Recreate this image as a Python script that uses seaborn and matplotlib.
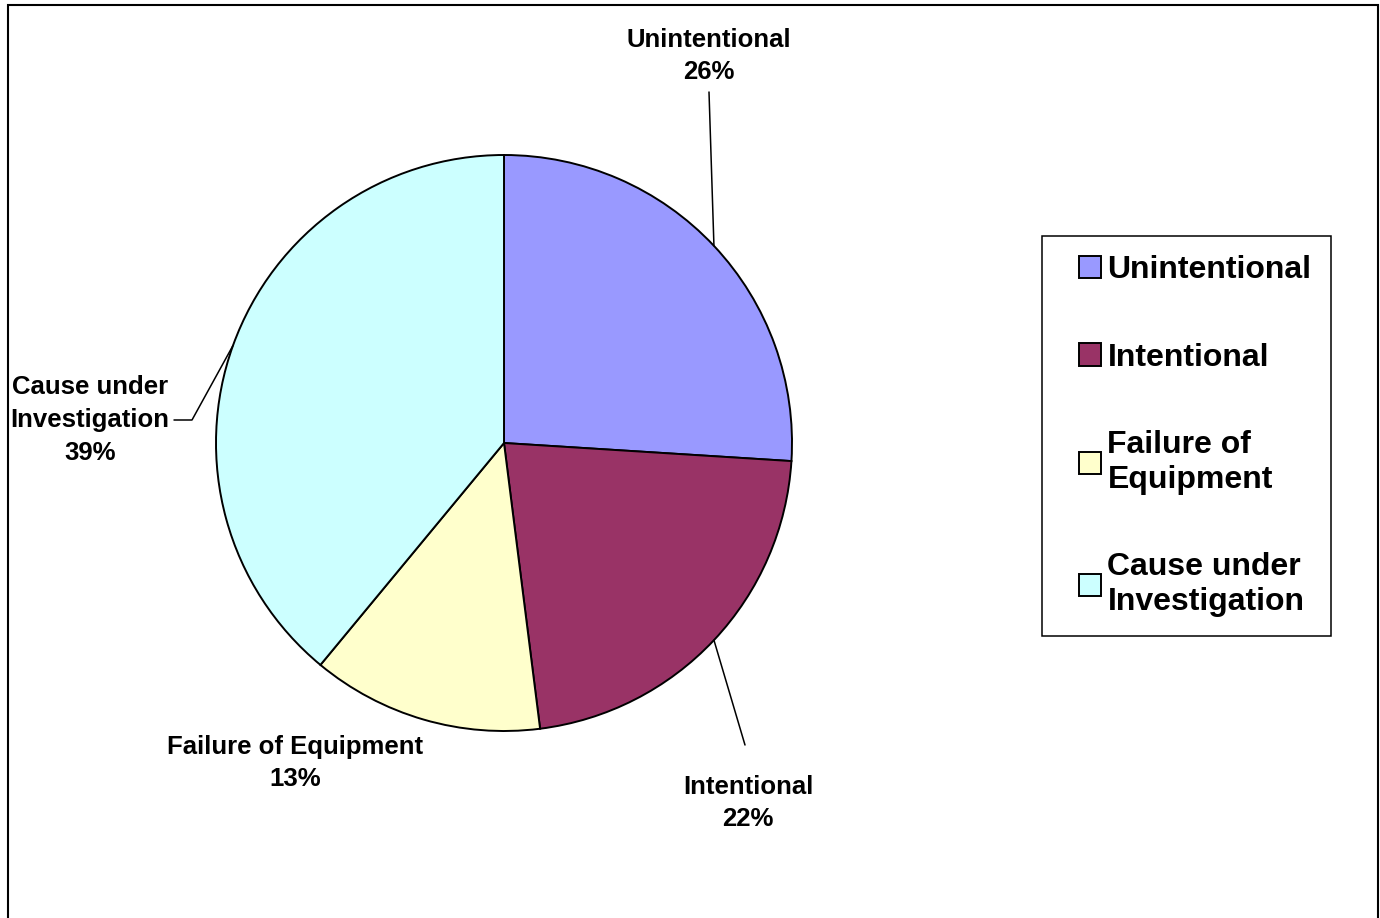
import matplotlib
matplotlib.use("Agg")
import matplotlib.pyplot as plt
from matplotlib.patches import Rectangle
from matplotlib.legend_handler import HandlerPatch
import seaborn as sns
import numpy as np

# dados
categorias = ["Unintentional", "Intentional", "Failure of Equipment", "Cause under Investigation"]
rotulos_legenda = ["Unintentional", "Intentional", "Failure of\nEquipment", "Cause under\nInvestigation"]
rotulos_fatia = ["Unintentional", "Intentional", "Failure of Equipment", "Cause under\nInvestigation"]
percentuais = [26, 22, 13, 39]
cores = ["#9999FF", "#993366", "#FFFFCC", "#CCFFFF"]

# posicoes (pixels) dos rotulos e das linhas guia
pos_rotulo = [(709, 56), (748, 803), (295, 763), (90, 420)]
fim_linha = [[(709, 92)], [(745, 745)], None, [(192, 420), (174, 420)]]
centro = (504, 443)
raio = 288

sns.set_style("white")
plt.rcParams["font.family"] = ["Liberation Sans", "DejaVu Sans"]
plt.rcParams["text.color"] = "black"

fig = plt.figure(figsize=(13.8, 9.18), dpi=100)
ax = fig.add_axes([0, 0, 1, 1])

# eixo y invertido -> sentido horario visual
fatias, _ = ax.pie(percentuais, colors=sns.color_palette(cores), startangle=-90, counterclock=True,
                   center=centro, radius=raio,
                   wedgeprops=dict(edgecolor="black", linewidth=1.4))
ax.set_xlim(0, 1380)
ax.set_ylim(918, 0)
ax.set_aspect("auto")
ax.axis("off")

# rotulos e linhas guia
for fatia, rot, pct, pos, fim in zip(fatias, rotulos_fatia, percentuais, pos_rotulo, fim_linha):
    ax.text(pos[0], pos[1], f"{rot}\n{pct}%", ha="center", va="center", fontsize=18.5,
            fontweight="bold", linespacing=1.45)
    if fim:
        meio = np.deg2rad((fatia.theta1 + fatia.theta2) / 2)
        xs = [centro[0] + raio * np.cos(meio)] + [p[0] for p in fim]
        ys = [centro[1] + raio * np.sin(meio)] + [p[1] for p in fim]
        ax.plot(xs, ys, color="black", linewidth=1.1)


# quadradinho da legenda encostado no texto
def quadrado(legend, orig_handle, xdescent, ydescent, width, height, fontsize):
    lado = 16
    return Rectangle((width - lado - xdescent, (height - lado) / 2 - ydescent), lado, lado)


leg = ax.legend(fatias, rotulos_legenda, loc="upper left",
                bbox_to_anchor=(1042 / 1380, 1 - 236 / 918), bbox_transform=fig.transFigure,
                prop=dict(weight="bold", size=23), frameon=True, fancybox=False,
                edgecolor="black", framealpha=1, borderpad=0.6, labelspacing=1.8,
                handlelength=1.25, handleheight=0.7, handletextpad=0.2, borderaxespad=0,
                handler_map={type(fatias[0]): HandlerPatch(patch_func=quadrado)})
leg.get_frame().set_linewidth(1.1)

# borda externa
fig.patches.append(Rectangle((8 / 1380, -0.01), 1370 / 1380, 1.01 - 5 / 918, transform=fig.transFigure,
                             fill=False, edgecolor="black", linewidth=1.5))

fig.savefig("out.png", dpi=100)
